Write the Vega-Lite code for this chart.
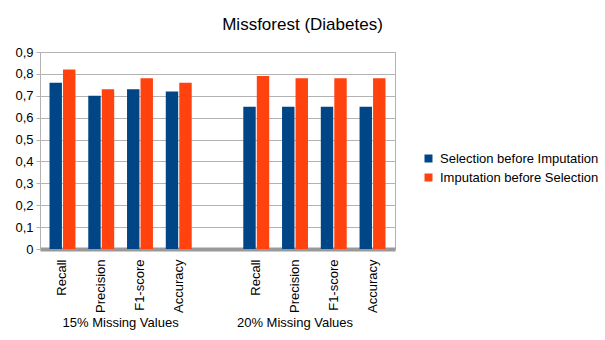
{
  "$schema": "https://vega.github.io/schema/vega-lite/v6.json",
  "width": 355,
  "height": 197,
  "autosize": {"type": "none"},
  "padding": {"left": 40, "top": 52, "right": 210, "bottom": 91},
  "background": "white",
  "config": {
    "font": "Liberation Sans",
    "view": {"stroke": "#b3b3b3", "strokeWidth": 1}
  },
  "title": {
    "text": "Missforest (Diabetes)",
    "font": "Liberation Sans",
    "fontSize": 17,
    "fontWeight": "normal",
    "color": "#000000",
    "anchor": "middle",
    "dx": 85,
    "offset": 12
  },
  "layer": [
    {
      "data": {
        "values": [
          {"slot": "15|Recall", "series": "Selection before Imputation", "value": 0.76},
          {"slot": "15|Recall", "series": "Imputation before Selection", "value": 0.82},
          {"slot": "15|Precision", "series": "Selection before Imputation", "value": 0.70},
          {"slot": "15|Precision", "series": "Imputation before Selection", "value": 0.73},
          {"slot": "15|F1-score", "series": "Selection before Imputation", "value": 0.73},
          {"slot": "15|F1-score", "series": "Imputation before Selection", "value": 0.78},
          {"slot": "15|Accuracy", "series": "Selection before Imputation", "value": 0.72},
          {"slot": "15|Accuracy", "series": "Imputation before Selection", "value": 0.76},
          {"slot": "20|Recall", "series": "Selection before Imputation", "value": 0.65},
          {"slot": "20|Recall", "series": "Imputation before Selection", "value": 0.79},
          {"slot": "20|Precision", "series": "Selection before Imputation", "value": 0.65},
          {"slot": "20|Precision", "series": "Imputation before Selection", "value": 0.78},
          {"slot": "20|F1-score", "series": "Selection before Imputation", "value": 0.65},
          {"slot": "20|F1-score", "series": "Imputation before Selection", "value": 0.78},
          {"slot": "20|Accuracy", "series": "Selection before Imputation", "value": 0.65},
          {"slot": "20|Accuracy", "series": "Imputation before Selection", "value": 0.78}
        ]
      },
      "mark": {"type": "bar"},
      "encoding": {
        "x": {
          "field": "slot",
          "type": "nominal",
          "sort": null,
          "scale": {
            "domain": ["15|Recall", "15|Precision", "15|F1-score", "15|Accuracy", "gap", "20|Recall", "20|Precision", "20|F1-score", "20|Accuracy"],
            "paddingInner": 0,
            "paddingOuter": 0.08
          },
          "axis": {
            "title": null,
            "labelAngle": -90,
            "labelAlign": "right",
            "labelBaseline": "middle",
            "labelExpr": "datum.value == 'gap' ? '' : split(datum.value, '|')[1]",
            "labelFontSize": 13,
            "labelColor": "#000000",
            "labelPadding": 10,
            "ticks": false,
            "domainColor": "#999999",
            "domainWidth": 4
          }
        },
        "xOffset": {
          "field": "series",
          "type": "nominal",
          "sort": ["Selection before Imputation", "Imputation before Selection"],
          "scale": {"paddingInner": 0.08, "paddingOuter": 0.475}
        },
        "y": {
          "field": "value",
          "type": "quantitative",
          "scale": {"domain": [0, 0.9], "nice": false},
          "axis": {
            "title": null,
            "values": [0, 0.1, 0.2, 0.3, 0.4, 0.5, 0.6, 0.7, 0.8, 0.9],
            "labelExpr": "datum.value == 0 ? '0' : replace(format(datum.value, '.1f'), '.', ',')",
            "labelFontSize": 13,
            "labelColor": "#000000",
            "labelOverlap": false,
            "tickSize": 4,
            "tickColor": "#b3b3b3",
            "labelPadding": 3,
            "domainColor": "#b3b3b3",
            "grid": true,
            "gridColor": "#b3b3b3",
            "gridWidth": 1
          }
        },
        "color": {
          "field": "series",
          "type": "nominal",
          "sort": ["Selection before Imputation", "Imputation before Selection"],
          "scale": {"range": ["#004586", "#ff420e"]},
          "legend": {
            "title": null,
            "orient": "none",
            "legendX": 382,
            "legendY": 100,
            "symbolType": "square",
            "symbolSize": 64,
            "symbolStrokeWidth": 0,
            "labelFontSize": 13,
            "labelColor": "#000000",
            "rowPadding": 5,
            "labelOffset": 5
          }
        }
      }
    },
    {
      "data": {"values": [{"label": "15% Missing Values", "anchor": "15|Precision"}]},
      "mark": {"type": "text", "fontSize": 13, "color": "#000000", "baseline": "middle", "dy": 172},
      "encoding": {
        "x": {"field": "anchor", "type": "nominal", "bandPosition": 1},
        "text": {"field": "label"}
      }
    },
    {
      "data": {"values": [{"label": "20% Missing Values", "anchor": "20|Precision"}]},
      "mark": {"type": "text", "fontSize": 13, "color": "#000000", "baseline": "middle", "dy": 172},
      "encoding": {
        "x": {"field": "anchor", "type": "nominal", "bandPosition": 0.5},
        "text": {"field": "label"}
      }
    }
  ]
}
